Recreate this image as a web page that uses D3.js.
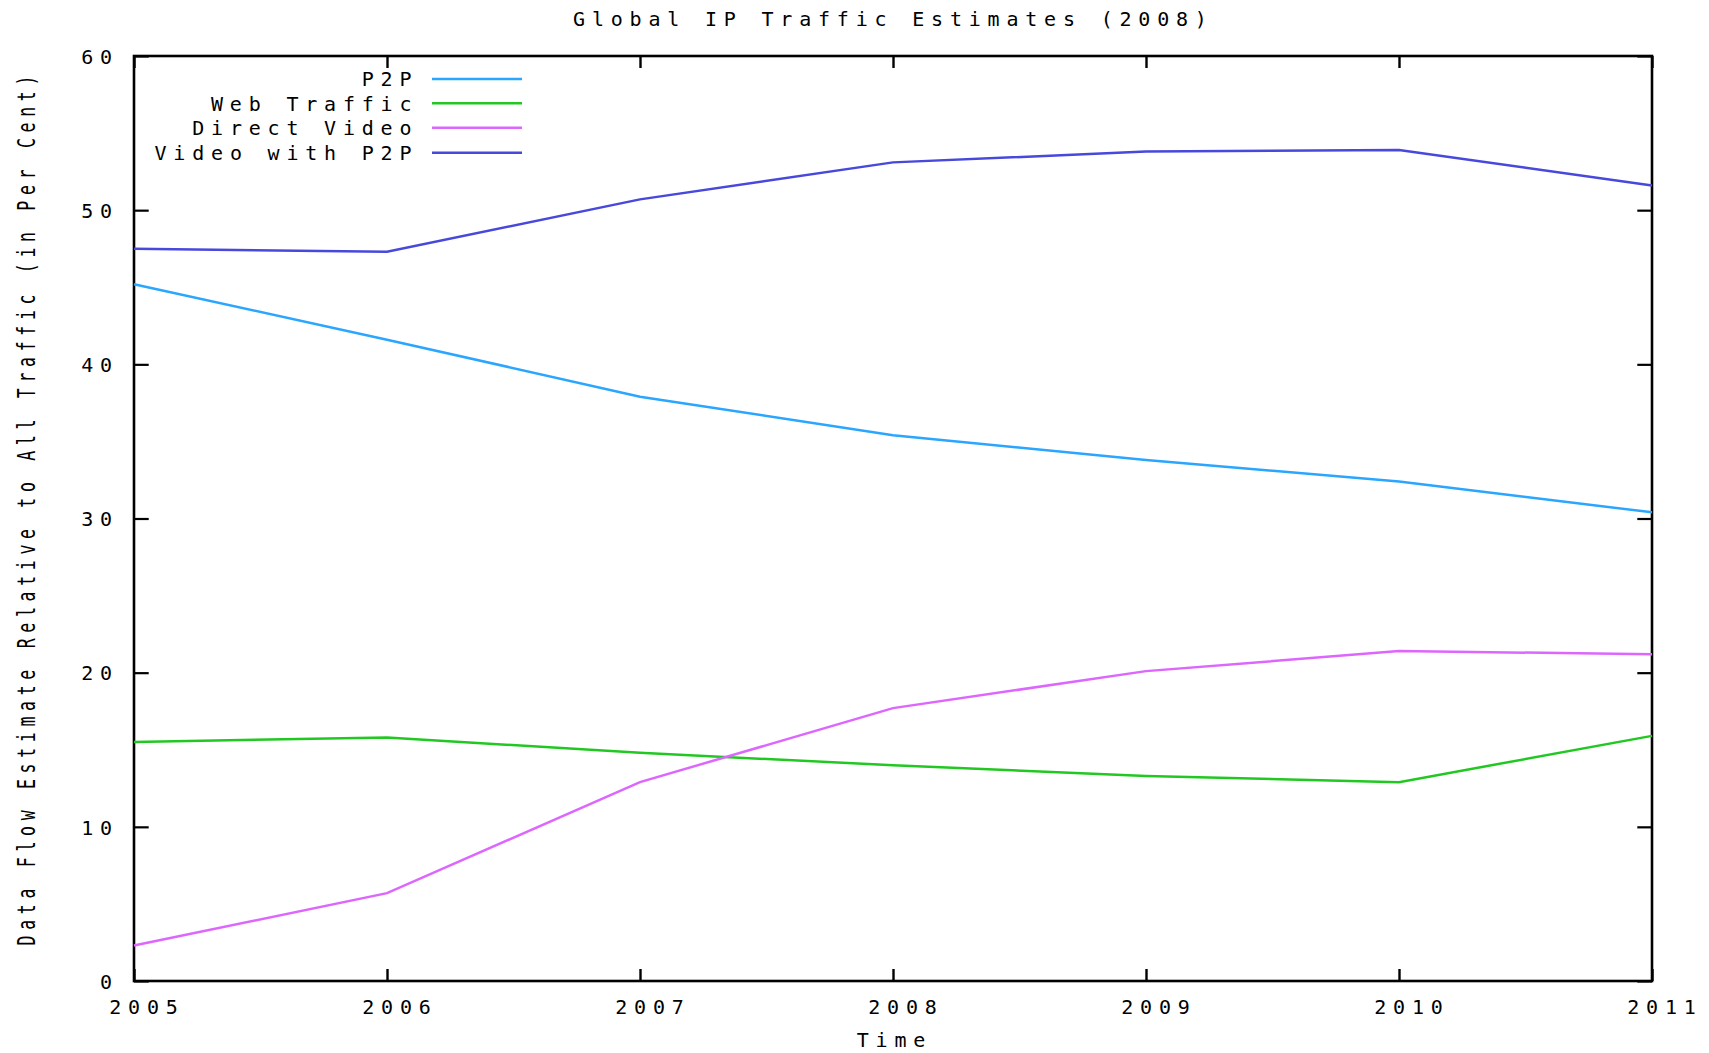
<!DOCTYPE html>
<html>
<head>
<meta charset="utf-8">
<script src="https://cdn.jsdelivr.net/npm/d3@7"></script>
<style>
  html, body { margin: 0; padding: 0; background: #fff; }
  svg { display: block; }
  text { font-family: "DejaVu Sans Mono", "Liberation Mono", monospace; font-size: 20px; fill: #000; letter-spacing: 6.8px; }
</style>
</head>
<body>
<svg id="chart" width="1709" height="1053"></svg>
<script>
// ---- data ----
const years = [2005, 2006, 2007, 2008, 2009, 2010, 2011];
const p2p = [45.2, 41.6, 37.9, 35.4, 33.8, 32.4, 30.4];
const webTraffic = [15.5, 15.8, 14.8, 14.0, 13.3, 12.9, 15.9];
const directVideo = [2.3, 5.7, 12.9, 17.7, 20.1, 21.4, 21.2];
const videoWithP2P = [47.5, 47.3, 50.7, 53.1, 53.8, 53.9, 51.6];
const seriesNames = ["P2P", "Web Traffic", "Direct Video", "Video with P2P"];
const seriesColors = ["#2aa6ff", "#22c822", "#dd66ff", "#4848dc"];
const yTicks = [0, 10, 20, 30, 40, 50, 60];
const titleText = "Global IP Traffic Estimates (2008)";
const xLabel = "Time";
const yLabel = "Data Flow Estimate Relative to All Traffic (in Per Cent)";

const series = [p2p, webTraffic, directVideo, videoWithP2P];

// ---- layout ----
const L = 134, R = 1652, T = 56, B = 981;
const LS = 6.8; // letter spacing
const svg = d3.select("#chart");

const x = d3.scaleLinear().domain([2005, 2011]).range([L, R]);
const y = d3.scaleLinear().domain([0, 60]).range([B, T]);

// frame
svg.append("rect")
  .attr("x", L).attr("y", T).attr("width", R - L).attr("height", B - T)
  .attr("fill", "none").attr("stroke", "#000").attr("stroke-width", 2.6);

// axes (ticks inward)
const xAxisB = d3.axisBottom(x).tickValues(years).tickFormat(d3.format("d")).tickSizeInner(-12).tickSizeOuter(0);
const gx = svg.append("g").attr("transform", `translate(0,${B})`).call(xAxisB);
gx.select(".domain").remove();
gx.selectAll("line").attr("stroke", "#000").attr("stroke-width", 2.4);
gx.selectAll("text").attr("dy", null).attr("y", 33).attr("x", 9 + LS / 2)
  .attr("text-anchor", "middle").style("font-family", null).style("font-size", "20px")
  .attr("font-family", null).attr("font-size", null).attr("fill", "#000");

const xAxisT = d3.axisTop(x).tickValues(years).tickFormat("").tickSizeInner(-12).tickSizeOuter(0);
const gxt = svg.append("g").attr("transform", `translate(0,${T})`).call(xAxisT);
gxt.select(".domain").remove();
gxt.selectAll("line").attr("stroke", "#000").attr("stroke-width", 2.4);

const yAxisL = d3.axisLeft(y).tickValues(yTicks).tickFormat(d3.format("d")).tickSizeInner(-14.7).tickSizeOuter(0);
const gy = svg.append("g").attr("transform", `translate(${L},0)`).call(yAxisL);
gy.select(".domain").remove();
gy.selectAll("line").attr("stroke", "#000").attr("stroke-width", 2.2);
gy.selectAll("text").attr("dy", "7.3").attr("x", -(L - 112) + LS)
  .attr("text-anchor", "end").attr("font-family", null).attr("font-size", null).attr("fill", "#000");

const yAxisR = d3.axisRight(y).tickValues(yTicks).tickFormat("").tickSizeInner(-14.7).tickSizeOuter(0);
const gyr = svg.append("g").attr("transform", `translate(${R},0)`).call(yAxisR);
gyr.select(".domain").remove();
gyr.selectAll("line").attr("stroke", "#000").attr("stroke-width", 2.2);

// remove tick at frame edges (drawn by frame anyway)
// lines
const line = d3.line().x((d, i) => x(years[i])).y(d => y(d));
const plot = svg.append("g");
series.forEach((s, k) => {
  plot.append("path").datum(s)
    .attr("d", line)
    .attr("fill", "none")
    .attr("stroke", seriesColors[k])
    .attr("stroke-width", 2.5);
});

// legend
const legRowY = [79, 103.3, 127.7, 152.7];
const lg = svg.append("g");
seriesNames.forEach((name, k) => {
  lg.append("text").attr("x", 411.5 + LS).attr("y", legRowY[k] + 7.3)
    .attr("text-anchor", "end").text(name);
  lg.append("line").attr("x1", 432).attr("x2", 522)
    .attr("y1", legRowY[k]).attr("y2", legRowY[k])
    .attr("stroke", seriesColors[k]).attr("stroke-width", 2.5);
});

// title
svg.append("text").attr("x", (L + R) / 2 - 3 + LS / 2).attr("y", 26)
  .attr("text-anchor", "middle").text(titleText);

// x label
svg.append("text").attr("x", (L + R) / 2 - 2 + LS / 2).attr("y", 1047)
  .attr("text-anchor", "middle").text(xLabel);

// y label (rotated, compressed along its length)
svg.append("text")
  .attr("transform", `translate(35,${(T + B) / 2 - 8}) rotate(-90) scale(0.83,1.2)`)
  .attr("x", LS / 2).attr("y", 0)
  .attr("text-anchor", "middle").text(yLabel);
</script>
</body>
</html>
